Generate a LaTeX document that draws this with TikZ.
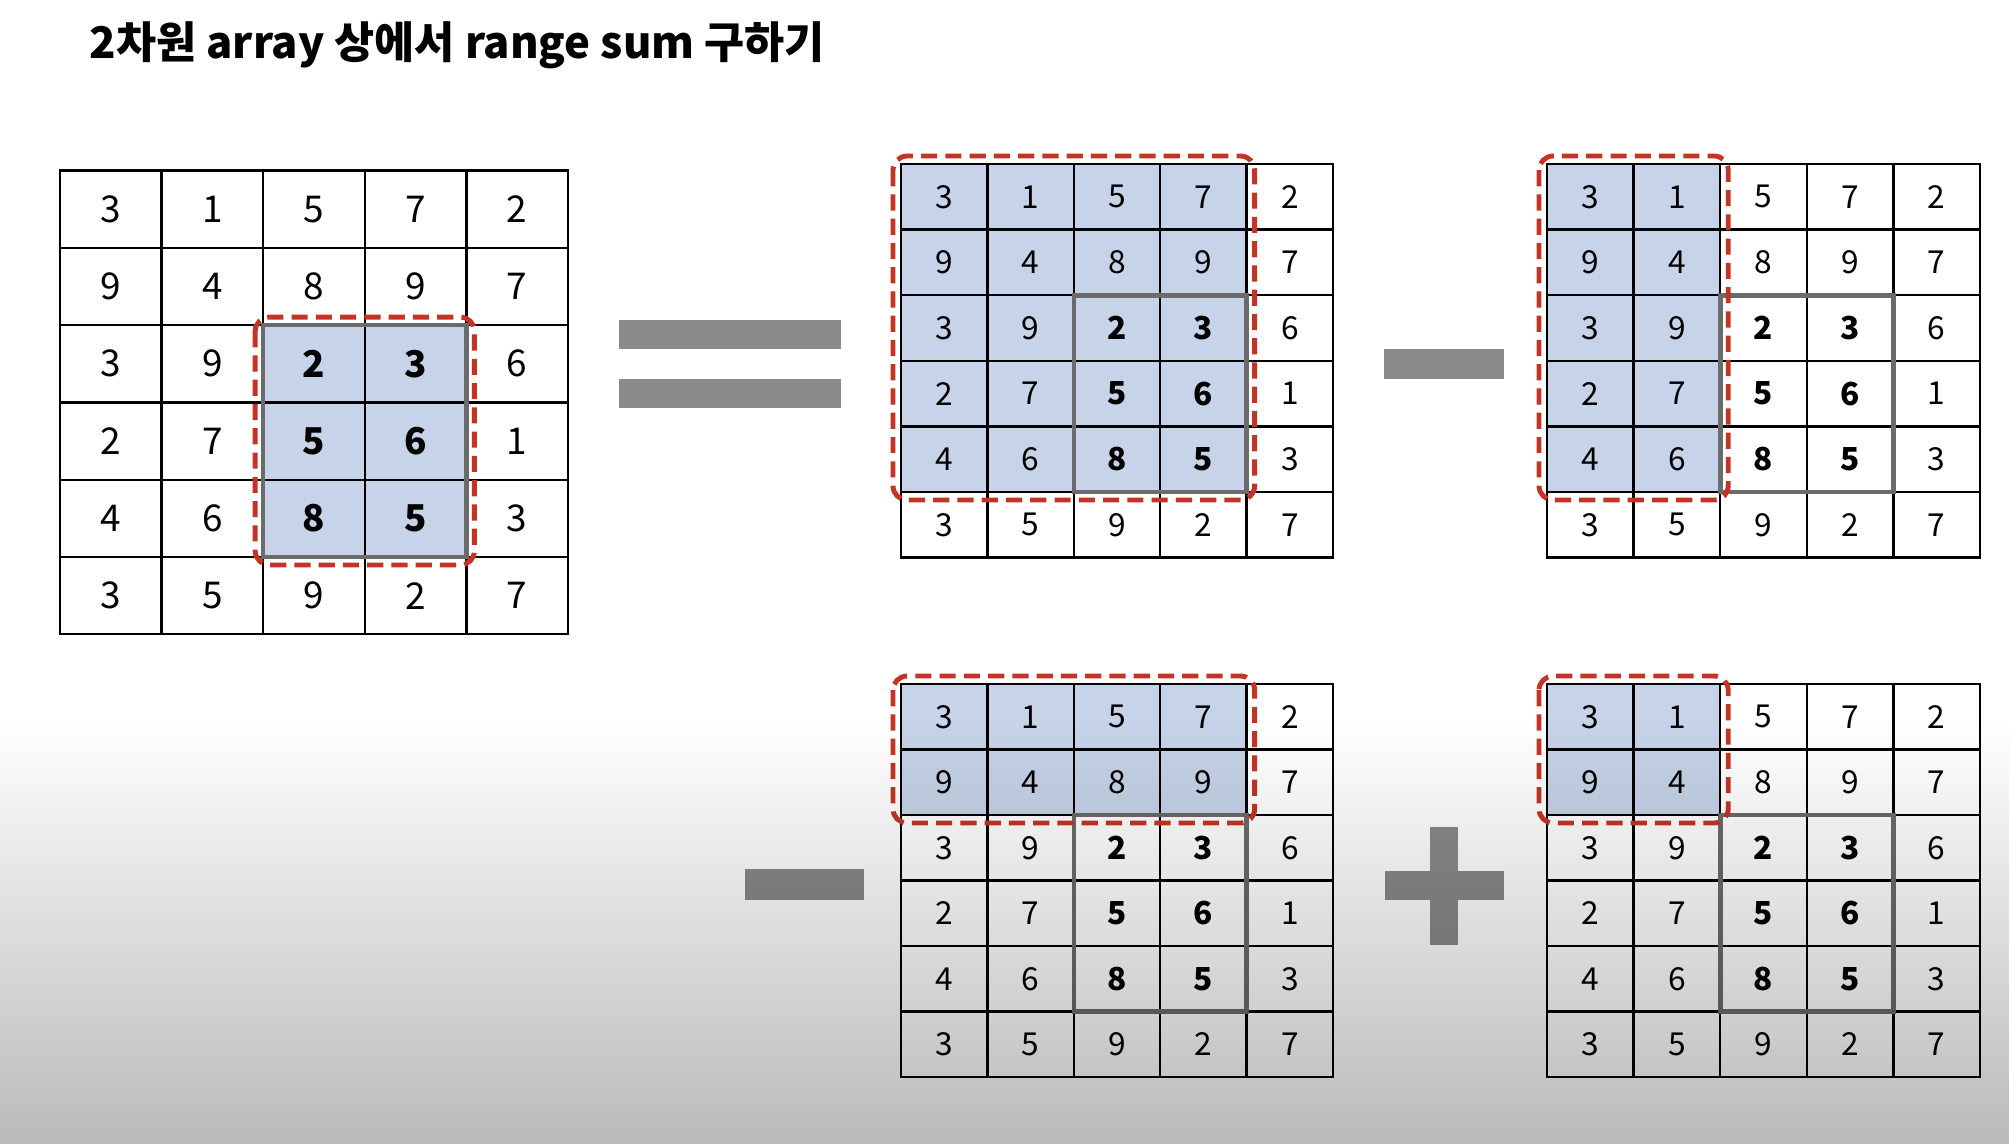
\documentclass[tikz,border=0pt]{standalone}
\usepackage{fontspec}
\setmainfont{Noto Sans CJK KR}
\usepackage{tikz}
\usetikzlibrary{fadings}
\definecolor{CellBlue}{RGB}{198,211,232}
\definecolor{DashRed}{RGB}{196,52,38}
\definecolor{OpGray}{RGB}{138,138,138}
\tikzfading[name=fadeup, top color=transparent!100, bottom color=transparent!0]

\tikzset{
  cellfont/.style={font=\fontsize{9}{9}\selectfont},
  plaincell/.style={draw=black, line width=0.65pt, inner sep=0pt, outer sep=0pt, cellfont},
  shadedcell/.style={plaincell, fill=CellBlue},
  targetline/.style={draw=black!58, line width=1.3pt},
  redbox/.style={draw=DashRed, line width=1.4pt, dash pattern=on 4.6pt off 2.3pt, rounded corners=4pt},
  opbar/.style={fill=OpGray},
  titletext/.style={font=\fontsize{12.4}{12.4}\selectfont\bfseries, inner sep=0pt}
}

\def\griddata{{3,1,5,7,2},{9,4,8,9,7},{3,9,2,3,6},{2,7,5,6,1},{4,6,8,5,3},{3,5,9,2,7}}

% #1 name, #2 #3 top left, #4 #5 cell size, #6-#7 shaded rows, #8-#9 shaded cols
\newcommand{\rangegrid}[9]{%
  \foreach \vals [count=\r] in \griddata {
    \foreach \v [count=\c] in \vals {
      \pgfmathtruncatemacro\inshade{(\r>=#6)&&(\r<=#7)&&(\c>=#8)&&(\c<=#9)}
      \pgfmathtruncatemacro\inbold{(\r>=3)&&(\r<=5)&&(\c>=3)&&(\c<=4)}
      \ifnum\inshade=1 \def\cellstyle{shadedcell}\else\def\cellstyle{plaincell}\fi
      \node[\cellstyle, minimum width=#4*0.01cm, minimum height=#5*0.01cm]
        (#1-\r-\c) at ({#2+(\c-0.5)*#4}, {#3+(\r-0.5)*#5})
        {\ifnum\inbold=1 \bfseries\fi\v};
    }
  }
  \draw[targetline] (#1-3-3.north west) rectangle (#1-5-4.south east);
}

\begin{document}
\begin{tikzpicture}[x=0.01cm, y=-0.01cm]
  \useasboundingbox (0,0) rectangle (2010,1144);
  \fill[white] (0,0) rectangle (2010,1144);

  \node[titletext, anchor=west] (title) at (89,45) {2차원 array 상에서 range sum 구하기};

  \begin{scope}[cellfont/.style={font=\fontsize{10.5}{10.5}\selectfont}]
    \rangegrid{main}{60}{170.5}{101.6}{77.3}{3}{5}{3}{4}
  \end{scope}
  \rangegrid{whole}{901}{164}{86.4}{65.6}{1}{5}{1}{4}
  \rangegrid{left}{1547}{164}{86.6}{65.6}{1}{5}{1}{2}
  \rangegrid{upper}{901}{684}{86.4}{65.5}{1}{2}{1}{4}
  \rangegrid{corner}{1547}{684}{86.6}{65.5}{1}{2}{1}{2}

  \draw[redbox] ([shift={(-8,-8)}]main-3-3.north west) rectangle ([shift={(8,8)}]main-5-4.south east);
  \draw[redbox] ([shift={(-8,-8)}]whole-1-1.north west) rectangle ([shift={(8,8)}]whole-5-4.south east);
  \draw[redbox] ([shift={(-8,-8)}]left-1-1.north west) rectangle ([shift={(8,8)}]left-5-2.south east);
  \draw[redbox] ([shift={(-8,-8)}]upper-1-1.north west) rectangle ([shift={(8,8)}]upper-2-4.south east);
  \draw[redbox] ([shift={(-8,-8)}]corner-1-1.north west) rectangle ([shift={(8,8)}]corner-2-2.south east);

  \fill[opbar] (619,320) rectangle (841,349);
  \fill[opbar] (619,379) rectangle (841,408);
  \fill[opbar] (1384,349) rectangle (1504,379);
  \fill[opbar] (745,869) rectangle (864,900);
  \fill[opbar] (1385,871) rectangle (1504,900);
  \fill[opbar] (1430,827) rectangle (1458,945);

  \fill[black, opacity=0.27, path fading=fadeup] (0,720) rectangle (2010,1144);
\end{tikzpicture}
\end{document}
